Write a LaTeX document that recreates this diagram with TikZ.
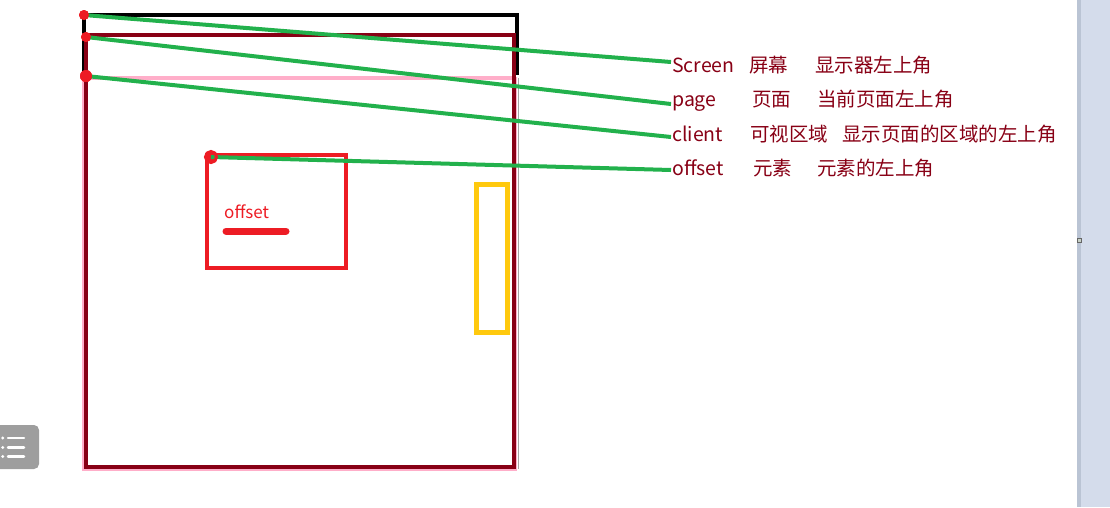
\documentclass[tikz,border=0pt]{standalone}
\usepackage{fontspec}
\setmainfont{Noto Sans CJK SC}
\usepackage{xcolor}
\usetikzlibrary{positioning}
\definecolor{pagered}{RGB}{136, 0, 21}
\definecolor{dotred}{RGB}{237, 28, 36}
\definecolor{leadgreen}{RGB}{34, 177, 76}
\definecolor{clientpink}{RGB}{255, 174, 201}
\definecolor{boxyellow}{RGB}{255, 201, 14}
\definecolor{barblue}{RGB}{212, 220, 235}
\definecolor{baredge}{RGB}{186, 196, 212}
\definecolor{icongray}{RGB}{158, 158, 158}

\tikzset{
  dotmark/.style={circle, fill=dotred, inner sep=0pt, minimum size=#1},
  dotmark/.default=10pt,
  lead/.style={leadgreen, line width=4pt},
  keyword/.style={anchor=base west, inner sep=0pt, text=pagered, font=\fontsize{19.5}{20}\selectfont},
}

\begin{document}
\begin{tikzpicture}[x=1pt, y=-1pt]

\clip (0, 0) rectangle (1110, 507);

% window frames: screen, client, page
\draw[black, line width=3.5pt] (84, 77) -- (84, 15) -- (517, 15) -- (517, 75);
\draw[clientpink, line width=3pt] (83, 78) rectangle (515, 469);
\draw[clientpink, line width=4.5pt] (86, 78) -- (514, 78);
\draw[black!35, line width=0.8pt] (518, 78) -- (518, 469);
\draw[pagered, line width=4pt] (86, 35) rectangle (514, 467);

% elements on the page
\draw[dotred, line width=4pt] (207, 155) rectangle (346, 268);
\node[anchor=base west, inner sep=0pt, text=dotred, font=\fontsize{17}{18}\selectfont]
  (offtext) at (224, 218) {offset};
\draw[dotred, line width=7pt, line cap=round] (226, 231) -- (286, 231);
\draw[boxyellow, line width=5pt] (476, 184) rectangle (507, 332);

% labels
\node[keyword] (scrname) at (672, 72) {Screen};
\node[keyword] (scrcn)   at (749, 72) {屏幕};
\node[keyword] (scrdesc) at (815, 72) {显示器左上角};

\node[keyword] (pagename) at (672, 106) {page};
\node[keyword] (pagecn)   at (752, 106) {页面};
\node[keyword] (pagedesc) at (817, 106) {当前页面左上角};

\node[keyword] (cliname) at (672, 141) {client};
\node[keyword] (clicn)   at (750, 141) {可视区域};
\node[keyword] (clidesc) at (842, 141) {显示页面的区域的左上角};

\node[keyword] (offname) at (672, 175) {offset};
\node[keyword] (offcn)   at (753, 175) {元素};
\node[keyword] (offdesc) at (817, 175) {元素的左上角};

% ends of the leads
\coordinate (scrend)  at (671, 62);
\coordinate (pageend) at (671, 104);
\coordinate (cliend)  at (671, 137);
\coordinate (offend)  at (671, 170);

% corner dots
\node[dotmark] (scrdot)  at (84, 15) {};
\node[dotmark] (pagedot) at (86, 37) {};
\node[dotmark=12pt] (clidot) at (86, 76) {};
\node[dotmark=13pt] (offdot) at (211, 157) {};

\draw[lead] (scrdot.center) -- (scrend);
\draw[lead] (pagedot.center) -- (pageend);
\draw[lead] (clidot.center) -- (cliend);
\draw[lead] (offdot.center) -- (offend);

\node[dotmark] at (scrdot) {};
\node[dotmark] at (pagedot) {};
\node[dotmark=12pt] at (clidot) {};
\node[circle, draw=dotred, line width=3pt, inner sep=0pt, minimum size=11pt] at (offdot) {};

% scroll bar on the right
\fill[barblue] (1077, 0) rectangle (1110, 507);
\fill[baredge] (1077, 0) rectangle (1081, 507);
\draw[black!60, fill=green!10!gray!40, line width=0.8pt] (1077, 238) rectangle (1081, 242);

% list icon at lower left
\fill[icongray, rounded corners=5pt] (-10, 425) rectangle (39, 469);
\foreach \yy in {438, 447.5, 456.5} {
    \fill[white] (2.7, \yy) circle (1.6);
    \draw[white, line width=2.5pt, line cap=round] (8, \yy) -- (24, \yy);
}

\end{tikzpicture}
\end{document}
